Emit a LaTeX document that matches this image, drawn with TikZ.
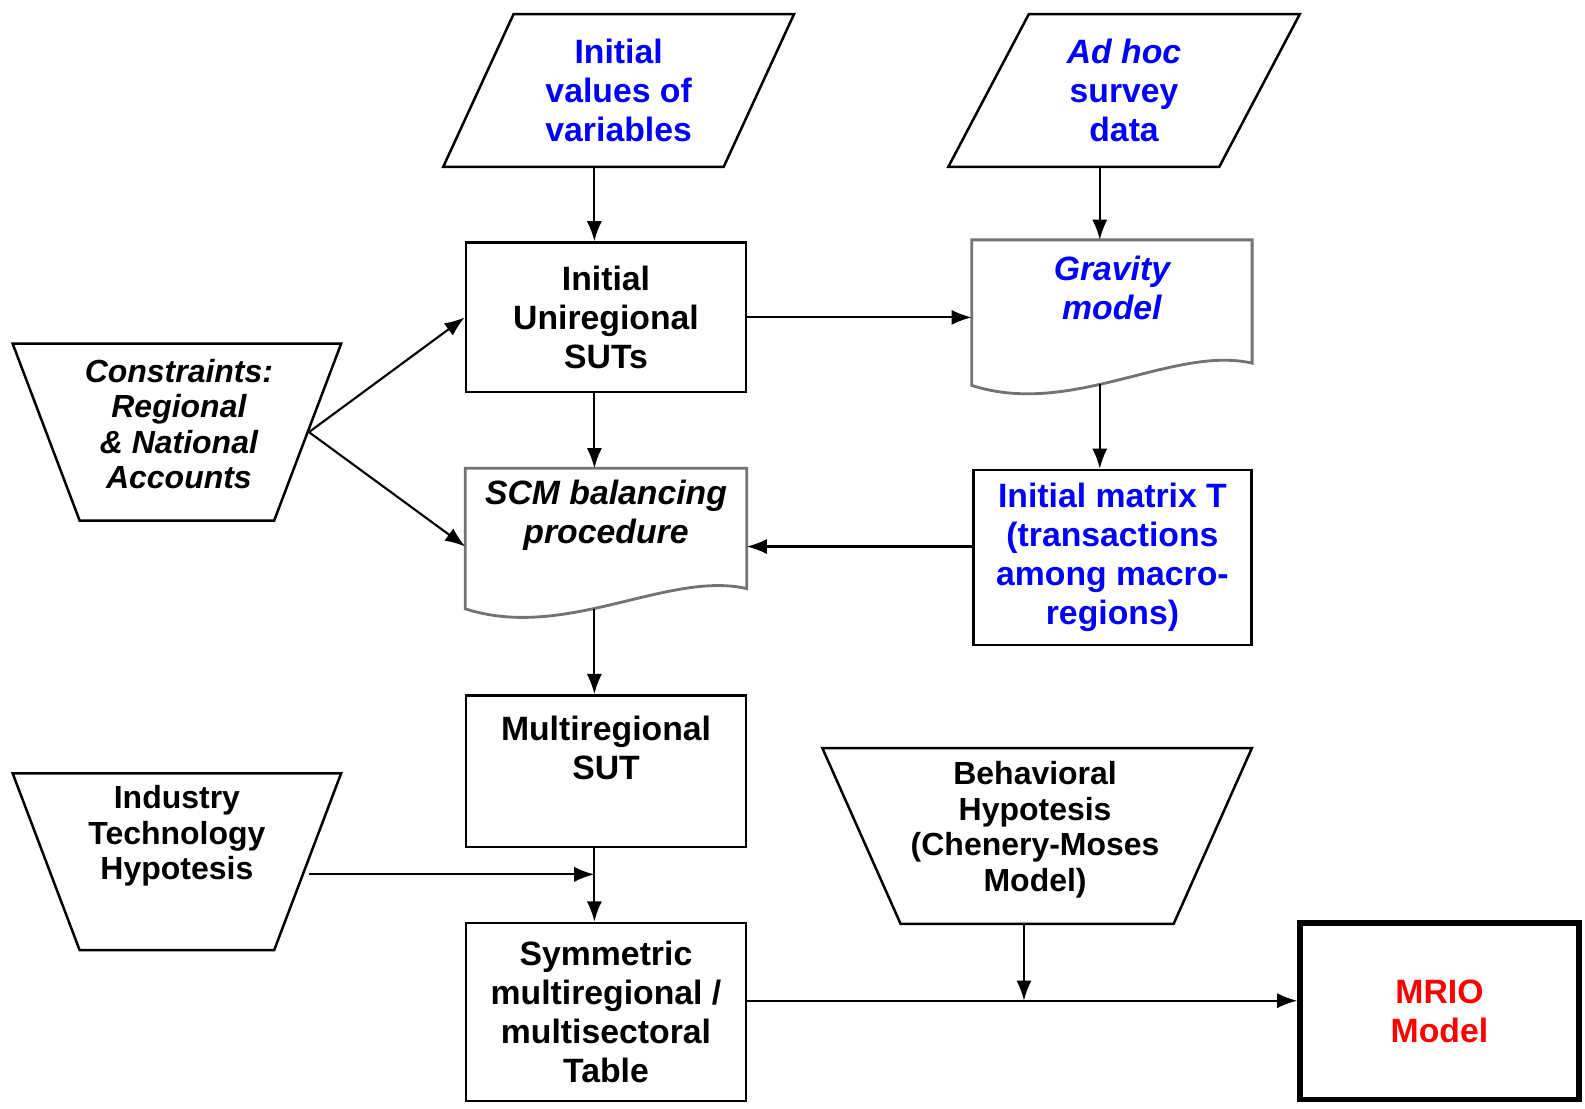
\documentclass[tikz,border=0pt]{standalone}
\usepackage{fontspec}
\setmainfont{Liberation Sans}
\usepackage{tikz}
\usetikzlibrary{calc}
\usetikzlibrary{arrows.meta}
\usetikzlibrary{shapes.geometric}
\tikzset{>={Latex[length=2mm,width=1.5mm]}}
\newcommand{\flowfont}{\fontsize{9.5}{11}\selectfont\bfseries}
\newcommand{\trapfont}{\fontsize{9}{10}\selectfont\bfseries}
\tikzstyle{box} = [rectangle, draw, line width=0.7pt, align=center, font=\flowfont, minimum width=27.7mm, inner sep=1pt]
\tikzstyle{io} = [trapezium, trapezium left angle=65, trapezium right angle=115, trapezium stretches=true, draw, line width=0.7pt, align=center, font=\flowfont, text=blue, minimum width=34.9mm, minimum height=15.1mm, inner sep=1pt]
\tikzstyle{manual} = [trapezium, trapezium left angle=109, trapezium right angle=109, trapezium stretches=true, draw, line width=0.7pt, minimum height=17.5mm, inner sep=1pt]
\tikzstyle{txt} = [align=center, font=\trapfont]
\tikzstyle{doc} = [rectangle, draw=none, align=center, font=\flowfont, minimum width=27.7mm, inner sep=1pt]
\tikzstyle{docline} = [draw=black!55, line width=0.8pt]
\tikzstyle{link} = [->, line width=0.6pt]

\begin{document}
\begin{tikzpicture}[x=0.1mm, y=-0.1mm]
\useasboundingbox (0,0) rectangle (1568,1097);
% inputs
\node [io] (init) at (612, 89.5) {Initial\\values of\\variables};
\node [io] (adhoc) at (1112, 89.5) {\textit{Ad hoc}\\survey\\data};
% main column
\node [box, minimum height=14.8mm] (suts) at (599.5, 314) {Initial\\Uniregional\\SUTs};
\node [doc, minimum height=9.2mm, font=\flowfont\itshape] (scm) at (599.5, 510) {SCM balancing\\procedure};
\node [box, minimum height=15mm] (multi) at (599.5, 763) {};
\node [font=\flowfont, align=center] (multi-t) at (599.5, 740) {Multiregional\\SUT};
\node [box, minimum height=17.6mm] (sym) at (599.5, 1001) {Symmetric\\multiregional /\\multisectoral\\Table};
% right column
\node [doc, minimum width=27.6mm, minimum height=9.4mm, text=blue, font=\flowfont\itshape] (grav) at (1100, 285) {Gravity\\model};
\node [box, minimum width=27.5mm, minimum height=17.3mm, text=blue] (matT) at (1100.5, 551.5) {Initial matrix T\\(transactions\\among macro-\\regions)};
\node [manual, minimum width=42.5mm, trapezium left angle=106, trapezium right angle=106, minimum height=17.4mm] (behav) at (1026, 827) {};
\node [txt] (behav-t) at (1024, 821) {Behavioral\\Hypotesis\\(Chenery-Moses\\Model)};
\node [box, line width=1.5pt, minimum width=27.6mm, minimum height=17.5mm, text=red] (mrio) at (1424, 1000.5) {MRIO\\Model};
% left side
\node [manual, minimum width=32.5mm] (cons) at (175, 427.5) {};
\node [txt, font=\trapfont\itshape] (cons-t) at (177, 419.5) {Constraints:\\Regional\\\& National\\Accounts};
\node [manual, minimum width=32.5mm] (ind) at (175, 852.5) {};
\node [txt] (ind-t) at (175, 827) {Industry\\Technology\\Hypotesis};
% document shapes
\draw [docline] (grav.north west) -- ($(grav.north west)+(0,144)$)
  .. controls ($(grav.north west)+(99,176)$) and ($(grav.north east)+(-78,104)$) .. ($(grav.north east)+(0,122)$)
  coordinate [pos=0.43] (gravB) -- (grav.north east) -- cycle;
\draw [docline] (scm.north west) -- ($(scm.north west)+(0,139)$)
  .. controls ($(scm.north west)+(99,171)$) and ($(scm.north east)+(-78,101)$) .. ($(scm.north east)+(0,119)$)
  coordinate [pos=0.43] (scmB) -- (scm.north east) -- cycle;
% connectors
\coordinate (colL) at (588, 0);
\coordinate (colR) at (1088, 0);
\coordinate (scmL) at ($(scm.south west)+(0,-16)$);
\coordinate (scmR) at ($(scm.south east)+(0,-16)$);
\coordinate (indJ) at (588, 865);
\coordinate (symR) at ($(sym.east)+(0,-11)$);
\coordinate (behavJ) at (1013, 990);
\draw [link] (colL |- init.south) -- (colL |- suts.north);
\draw [link] (colR |- adhoc.south) -- (colR |- grav.north);
\draw [link] (suts.east) -- (suts.east -| grav.west);
\draw [link] (cons.east) -- (suts.west);
\draw [link] (cons.east) -- (scmL);
\draw [link] (colL |- suts.south) -- (colL |- scm.north);
\draw [link] (colR |- gravB) -- (colR |- matT.north);
\draw [link] (matT.west |- scmR) -- (scmR);
\draw [link] (colL |- scmB) -- (colL |- multi.north);
\draw [link] (colL |- multi.south) -- (colL |- sym.north);
\draw [link] (ind.east |- indJ) -- (indJ);
\draw [link] (symR) -- (symR -| mrio.west);
\draw [link] (behavJ |- behav.south) -- (behavJ);
\end{tikzpicture}
\end{document}
